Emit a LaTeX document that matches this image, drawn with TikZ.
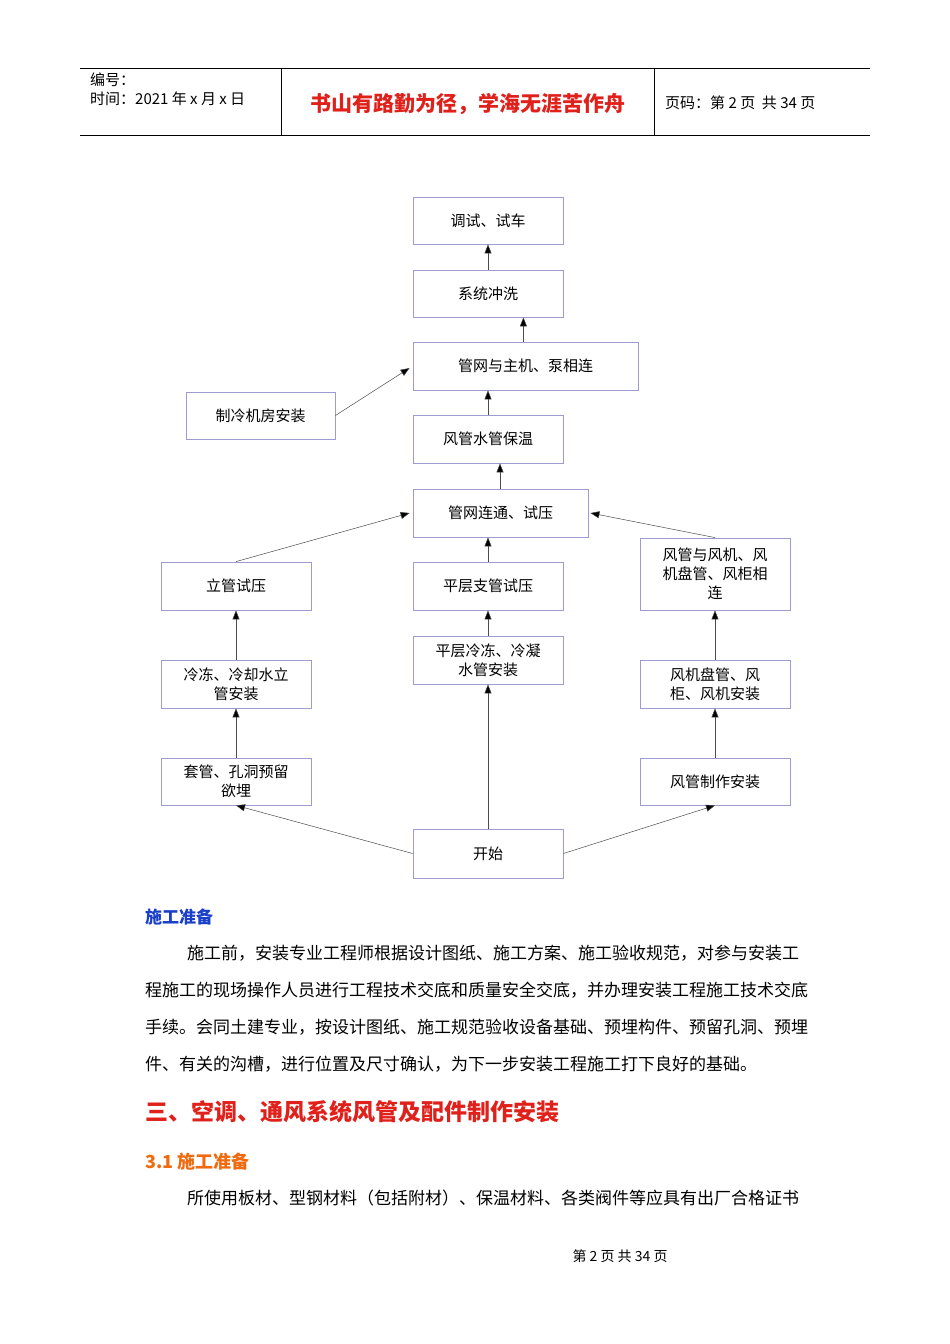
\documentclass[tikz,border=0pt]{standalone}
\usepackage{fontspec}
\setmainfont{Noto Sans CJK SC}
\usetikzlibrary{arrows.meta}
\definecolor{bx}{HTML}{9C9CD0}
\definecolor{hred}{HTML}{E0201A}
\definecolor{hblue}{HTML}{1A3FC8}
\definecolor{horange}{HTML}{F06A10}
\begin{document}
\begin{tikzpicture}[x=1pt,y=-1pt,
  box/.style={draw=bx,line width=0.8pt,inner sep=0pt,align=center,font=\fontsize{15}{19}\selectfont},
  arr/.style={draw=black!70,line width=0.5pt,-{Triangle[length=9pt,width=7pt,fill=black]}},
  txt/.style={anchor=west,inner sep=0pt,font=\fontsize{17}{20}\selectfont}]
\useasboundingbox[fill=white] (0,0) rectangle (950,1344);
% header
\draw[line width=0.6pt] (80,68) -- (870,68) (80,135) -- (870,135) (281,68) -- (281,135) (654,68) -- (654,135);
\node[anchor=west,inner sep=0pt,font=\fontsize{15}{18}\selectfont] (h1) at (90,80) {编号：};
\node[anchor=west,inner sep=0pt,font=\fontsize{15}{18}\selectfont] (h2) at (90,99) {时间：2021 年 x 月 x 日};
\node[inner sep=0pt,font=\fontsize{21}{24}\selectfont\bfseries,text=hred] (h3) at (468,104) {书山有路勤为径，学海无涯苦作舟};
\node[anchor=west,inner sep=0pt,font=\fontsize{15}{18}\selectfont] (h4) at (665,103) {页码：第 2 页 \ 共 34 页};
% boxes
\def\bx#1#2#3#4#5#6{\node[box,minimum width=#4pt-#2pt,minimum height=#5pt-#3pt] (#1) at ({(#2+#4)/2},{(#3+#5)/2}) {#6};}
\bx{a}{413}{197}{563}{244}{调试、试车}
\bx{b}{413}{270}{563}{317}{系统冲洗}
\bx{c}{413}{342}{638}{390}{管网与主机、泵相连}
\bx{d}{186}{392}{335}{439}{制冷机房安装}
\bx{e}{413}{415}{563}{463}{风管水管保温}
\bx{f}{413}{489}{588}{537}{管网连通、试压}
\bx{g}{161}{562}{311}{610}{立管试压}
\bx{h}{413}{562}{563}{610}{平层支管试压}
\bx{i}{640}{538}{790}{610}{风管与风机、风\\机盘管、风柜相\\连}
\bx{j}{161}{660}{311}{708}{冷冻、冷却水立\\管安装}
\bx{k}{413}{636}{563}{684}{平层冷冻、冷凝\\水管安装}
\bx{l}{640}{660}{790}{708}{风机盘管、风\\柜、风机安装}
\bx{m}{161}{758}{311}{805}{套管、孔洞预留\\欲埋}
\bx{n}{413}{829}{563}{878}{开始}
\bx{o}{640}{758}{790}{805}{风管制作安装}
% arrows
\draw[arr] (b.north) -- (a.south);
\draw[arr] (c.north -| b.south east) ++(-40,0) coordinate (c1) -- (c1 |- b.south);
\draw[arr] (e.north) -- (e.north |- c.south);
\draw[arr] (d.east) -- ([xshift=-3pt,yshift=-2pt]c.west);
\draw[arr] ([xshift=12pt]e.south |- f.north) coordinate (f1) -- (f1 |- e.south);
\draw[arr] (g.north) -- ([xshift=-3pt]f.west);
\draw[arr] (h.north) -- (h.north |- f.south);
\draw[arr] (i.north) -- ([xshift=2pt]f.east);
\draw[arr] (j.north) -- (g.south);
\draw[arr] (k.north) -- (h.south);
\draw[arr] (l.north) -- (i.south);
\draw[arr] (m.north) -- (j.south);
\draw[arr] (n.north) -- (k.south);
\draw[arr] (o.north) -- (l.south);
\draw[arr] (n.west) -- (m.south);
\draw[arr] (n.east) -- (o.south);
% text
\node[anchor=west,inner sep=0pt,font=\fontsize{17}{20}\selectfont\bfseries,text=hblue] (t0) at (145,917) {施工准备};
\node[txt] (t1) at (187,953) {施工前，安装专业工程师根据设计图纸、施工方案、施工验收规范，对参与安装工};
\node[txt] (t2) at (145,990) {程施工的现场操作人员进行工程技术交底和质量安全交底，并办理安装工程施工技术交底};
\node[txt] (t3) at (145,1027) {手续。会同土建专业，按设计图纸、施工规范验收设备基础、预埋构件、预留孔洞、预埋};
\node[txt] (t4) at (145,1064) {件、有关的沟槽，进行位置及尺寸确认，为下一步安装工程施工打下良好的基础。};
\node[anchor=west,inner sep=0pt,font=\fontsize{23}{26}\selectfont\bfseries,text=hred] (t5) at (145,1112) {三、空调、通风系统风管及配件制作安装};
\node[anchor=west,inner sep=0pt,font=\fontsize{18}{21}\selectfont\bfseries,text=horange] (t6) at (145,1162) {3.1 施工准备};
\node[txt] (t7) at (187,1198) {所使用板材、型钢材料（包括附材）、保温材料、各类阀件等应具有出厂合格证书};
\node[inner sep=0pt,font=\fontsize{14}{16}\selectfont] (t8) at (620,1256) {第 2 页 共 34 页};
\end{tikzpicture}
\end{document}
